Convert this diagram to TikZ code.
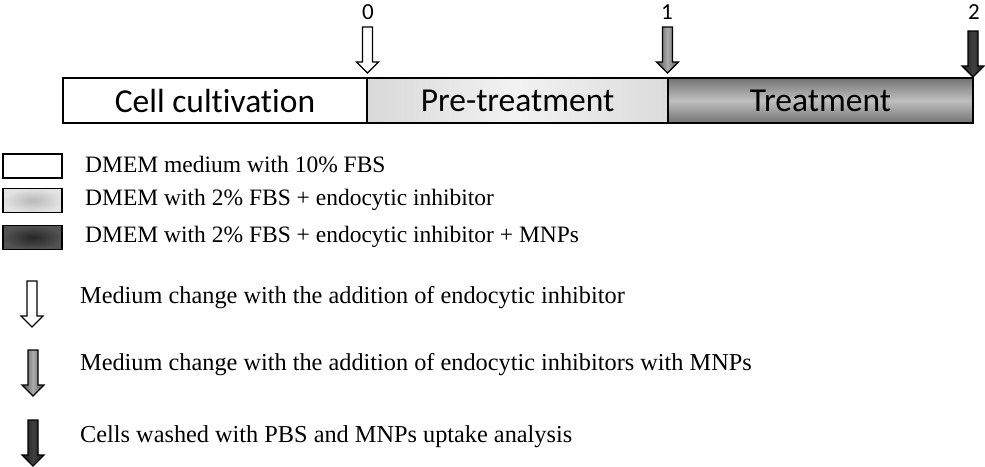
\documentclass[tikz,border=0pt]{standalone}
\usepackage{fontspec}
\setmainfont{Liberation Serif}
\newfontfamily\barfont[Ligatures=NoCommon]{Carlito}
\usetikzlibrary{shadings}
\tikzset{
  barrow/.pic={\path[pic actions] (-5,0) -- (5,0) -- (5,35) -- (11,35) -- (0,46) -- (-11,35) -- (-5,35) -- cycle;},
  seg/.style={draw=black, line width=1.2pt, minimum height=45pt, inner sep=0pt, font=\barfont\fontsize{33.5}{36}\selectfont},
  lbox/.style={draw=black, line width=1.6pt, minimum width=59pt, minimum height=24pt, inner sep=0pt},
  ltext/.style={anchor=west, inner sep=0pt, font=\fontsize{23.5}{26}\selectfont},
  atext/.style={anchor=west, inner sep=0pt, font=\fontsize{24.3}{26}\selectfont},
  tick/.style={font=\barfont\fontsize{23}{25}\selectfont, inner sep=0pt},
  arrowline/.style={draw=black, line width=1.2pt},
}
\begin{document}
\begin{tikzpicture}[x=1pt,y=-1pt]
\useasboundingbox (0,0) rectangle (985,466);
% timeline bar
\node[seg, fill=white, minimum width=304pt] (cult) at (215,100.5) {Cell cultivation};
\node[seg, minimum width=301pt, left color=gray!30, right color=gray!28, middle color=gray!10] (pre) at (517.5,100.5) {Pre-treatment};
\node[seg, minimum width=305pt, top color=gray!90!black, bottom color=gray!90!black, middle color=gray!50] (treat) at (820.5,100.5) {Treatment};
% time points
\node[tick] (t0) at (368,12) {0};
\node[tick] (t1) at (667,12) {1};
\node[tick] (t2) at (974,12) {2};
\pic[arrowline, fill=white] at (367.5,27) {barrow};
\pic[arrowline, left color=gray!60!black, right color=gray!60!black, middle color=gray!65] at (667.5,27) {barrow};
\pic[arrowline, left color=black!90, right color=black!90, middle color=gray!50!black] at (973,31) {barrow};
% legend boxes
\node[lbox, fill=white] (b1) at (32.5,166) {};
\node[lbox, inner color=gray!55, outer color=gray!22] (b2) at (32.5,200.5) {};
\node[lbox, inner color=black!85, outer color=gray!65!black] (b3) at (32.5,237.5) {};
\node[ltext] (l1) at (85,164) {DMEM medium with 10\% FBS};
\node[ltext] (l2) at (85,200) {DMEM with 2\% FBS + endocytic inhibitor};
\node[ltext] (l3) at (85,237) {DMEM with 2\% FBS + endocytic inhibitor + MNPs};
% legend arrows
\pic[arrowline, fill=white] at (32,281) {barrow};
\pic[arrowline, left color=gray!60!black, right color=gray!60!black, middle color=gray!65] at (33,350) {barrow};
\pic[arrowline, left color=black!90, right color=black!90, middle color=gray!50!black] at (33,420) {barrow};
\node[atext] (a1) at (80,298) {Medium change with the addition of endocytic inhibitor};
\node[atext] (a2) at (80,365) {Medium change with the addition of endocytic inhibitors with MNPs};
\node[atext] (a3) at (80,437) {Cells washed with PBS and MNPs uptake analysis};
\end{tikzpicture}
\end{document}
